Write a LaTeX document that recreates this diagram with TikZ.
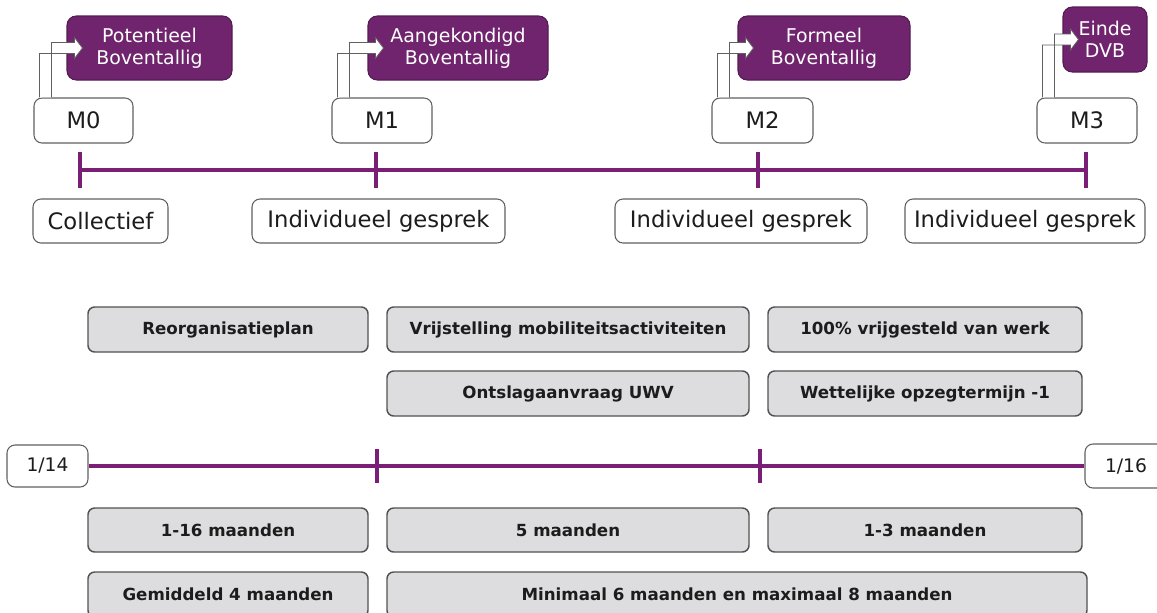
\documentclass[tikz,border=0pt]{standalone}
\usepackage{fontspec}
\setmainfont{DejaVu Sans}
\usetikzlibrary{calc}

\definecolor{dvbpurple}{RGB}{112,36,110}
\definecolor{linepurple}{RGB}{122,30,118}
\definecolor{boxgray}{RGB}{221,221,223}
\definecolor{edgegray}{RGB}{96,96,96}
\definecolor{txtdark}{RGB}{28,28,28}

\tikzset{
  sized/.style 2 args={minimum width=#1*0.75pt, minimum height=#2*0.75pt},
  mbox/.style={draw=edgegray, line width=0.8pt, fill=white, rounded corners=6pt, inner sep=0pt, text=txtdark, font=\fontsize{17}{20}\selectfont},
  statusbox/.style={draw=dvbpurple!75!black, line width=0.8pt, fill=dvbpurple, rounded corners=7pt, inner sep=0pt, text=white, align=center, font=\fontsize{14.2}{16.5}\selectfont},
  talkbox/.style={mbox},
  phasebox/.style={draw=edgegray!85!black, line width=1.1pt, fill=boxgray, rounded corners=5pt, inner sep=0pt, text=txtdark, font=\fontsize{12.5}{15}\selectfont\bfseries},
  datebox/.style={mbox, font=\fontsize{14}{17}\selectfont},
  tline/.style={draw=linepurple, line width=3pt},
  bentarr/.style={draw=edgegray, line width=0.6pt, fill=white, line join=miter},
}

% bent outline arrow from a milestone up into its status box
\newcommand{\bentarrow}[2]{%
  \draw[bentarr] let \p1=(#1.north west), \p2=(#2.west) in
    (\x1+4.5pt,\y1) -- (\x1+4.5pt,\y2+4.1pt) -- (\x2+6pt,\y2+4.1pt) -- (\x2+6pt,\y2+7.9pt)
    -- (\x2+12pt,\y2) -- (\x2+6pt,\y2-7.9pt) -- (\x2+6pt,\y2-4.1pt) -- (\x1+13.5pt,\y2-4.1pt)
    -- (\x1+13.5pt,\y1);
}

\begin{document}
\begin{tikzpicture}[x=0.75pt,y=0.75pt,yscale=-1,xscale=1]
\clip (0,0) rectangle (1157,612);

%milestones
\node[mbox, sized={99}{45}] (m0) at (83.5,120.5) {M0};
\node[mbox, sized={100}{45}] (m1) at (382,120.5) {M1};
\node[mbox, sized={101}{45}] (m2) at (762.5,120.5) {M2};
\node[mbox, sized={100}{45}] (m3) at (1087,120.5) {M3};

%status boxes
\node[statusbox, sized={165}{64}] (pot) at (149.5,48) {Potentieel\\Boventallig};
\node[statusbox, sized={180}{64}] (aan) at (458,48) {Aangekondigd\\Boventallig};
\node[statusbox, sized={172}{64}] (form) at (824,48) {Formeel\\Boventallig};
\node[statusbox, sized={84}{65}] (einde) at (1105,39.5) {Einde\\DVB};

\bentarrow{m0}{pot}
\bentarrow{m1}{aan}
\bentarrow{m2}{form}
\bentarrow{m3}{einde}

%upper timeline
\coordinate (t0) at (80,170);
\coordinate (t1) at (376,170);
\coordinate (t2) at (758,170);
\coordinate (t3) at (1086,170);
\draw[tline] (t0) -- (t3);
\foreach \t in {t0,t1,t2,t3}
  \draw[tline] ($(\t)+(0,-18)$) -- ($(\t)+(0,18)$);

%talks
\node[talkbox, sized={135}{44}] (coll) at (100.5,221) {Collectief};
\node[talkbox, sized={253}{44}] (ind1) at (378.5,221) {Individueel gesprek};
\node[talkbox, sized={252}{44}] (ind2) at (741,221) {Individueel gesprek};
\node[talkbox, sized={240}{44}] (ind3) at (1025,221) {Individueel gesprek};

%phases
\node[phasebox, sized={280}{45}] (reorg) at (228,329.5) {Reorganisatieplan};
\node[phasebox, sized={362}{45}] (vrij) at (568,329.5) {Vrijstelling mobiliteitsactiviteiten};
\node[phasebox, sized={314}{45}] (werk) at (925,329.5) {100\% vrijgesteld van werk};
\node[phasebox, sized={362}{45}] (uwv) at (568,393.5) {Ontslagaanvraag UWV};
\node[phasebox, sized={314}{45}] (opzeg) at (925,393.5) {Wettelijke opzegtermijn -1};

%lower timeline
\node[datebox, sized={81}{42}] (d14) at (47.5,466) {1/14};
\node[datebox, sized={82}{44}] (d16) at (1126,466) {1/16};
\draw[tline] (d14.east) -- (d16.west);
\coordinate (b1) at (377,466);
\coordinate (b2) at (760,466);
\foreach \t in {b1,b2}
  \draw[tline] ($(\t)+(0,-17)$) -- ($(\t)+(0,17)$);

%durations
\node[phasebox, sized={280}{44}] (dur1) at (228,530) {1-16 maanden};
\node[phasebox, sized={362}{44}] (dur2) at (568,530) {5 maanden};
\node[phasebox, sized={314}{44}] (dur3) at (925,530) {1-3 maanden};
\node[phasebox, sized={280}{45}] (gem) at (228,594.5) {Gemiddeld 4 maanden};
\node[phasebox, sized={700}{45}] (minmax) at (737,594.5) {Minimaal 6 maanden en maximaal 8 maanden};

\end{tikzpicture}
\end{document}
